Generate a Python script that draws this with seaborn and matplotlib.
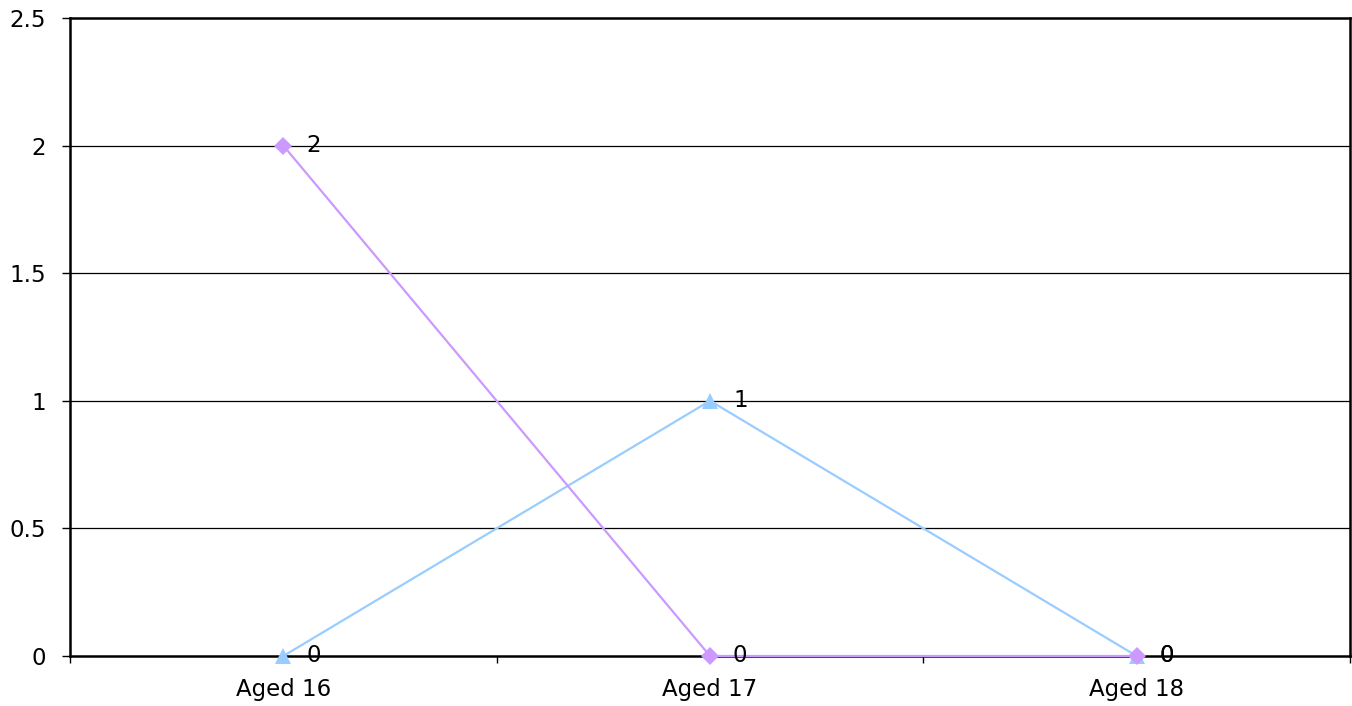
import pandas as pd
import numpy as np
import matplotlib
matplotlib.use("Agg")
import matplotlib.pyplot as plt
import seaborn as sns
from matplotlib.ticker import FixedLocator, NullFormatter

# Data
ages = ["Aged 16", "Aged 17", "Aged 18"]
series_a = [0, 1, 0]   # light blue, triangles
series_b = [2, 0, 0]   # lilac, diamonds
series_names = ["Series1", "Series2"]
y_ticks = [0, 0.5, 1, 1.5, 2, 2.5]

sns.set_theme(style="white")
plt.rcParams['font.family'] = ['DejaVu Sans']
FS = 16.5

pos = list(range(len(ages)))
df = pd.DataFrame({
    'pos': pos + pos,
    'value': series_a + series_b,
    'series': [series_names[0]] * len(ages) + [series_names[1]] * len(ages),
})

colors = {series_names[0]: '#99CCFF', series_names[1]: '#CC99FF'}
markers = {series_names[0]: '^', series_names[1]: 'D'}

fig = plt.figure(figsize=(13.52, 7.06), dpi=100)
ax = fig.add_axes([70 / 1352, 1 - 656 / 706, 1280 / 1352, 638 / 706])

sns.lineplot(data=df, x='pos', y='value', hue='series', style='series',
             palette=colors, markers=markers, dashes=False, linewidth=1.6,
             markersize=10, markeredgewidth=0, legend=False, ax=ax, zorder=3)
for ln in ax.lines:
    ln.set_clip_on(False)
    if ln.get_marker() == '^':
        ln.set_markersize(11)
    elif ln.get_marker() == 'D':
        ln.set_markersize(9.5)

# data labels
for name, vals in zip(series_names, [series_a, series_b]):
    for p, v in zip(pos, vals):
        ax.annotate(f"{v:g}", (p, v), xytext=(23, 0), textcoords='offset pixels',
                    ha='left', va='center', fontsize=FS, color='black', zorder=4,
                    annotation_clip=False)

ax.set_xlim(-0.5, len(ages) - 0.5)
ax.set_ylim(0, 2.5)
ax.set_yticks(y_ticks)
ax.set_yticklabels([f"{t:g}" for t in y_ticks], fontsize=FS, color='black')
ax.set_xticks(pos)
ax.set_xticklabels(ages, fontsize=FS, color='black')
ax.xaxis.set_minor_locator(FixedLocator(np.arange(-0.5, len(ages), 1.0)))
ax.xaxis.set_minor_formatter(NullFormatter())
ax.tick_params(axis='x', which='major', length=0, pad=16)
ax.tick_params(axis='x', which='minor', length=5, width=1, color='black', direction='out', bottom=True)
ax.tick_params(axis='y', length=5.8, width=1, color='black', direction='out', left=True, pad=11.5)
ax.set_xlabel('')
ax.set_ylabel('')

for yv in y_ticks[1:-1]:
    ax.axhline(yv, color='black', linewidth=0.9, zorder=1)

for side, spine in ax.spines.items():
    spine.set_visible(True)
    spine.set_color('black')
    spine.set_linewidth(1.8)

fig.savefig("out.png", dpi=100)
